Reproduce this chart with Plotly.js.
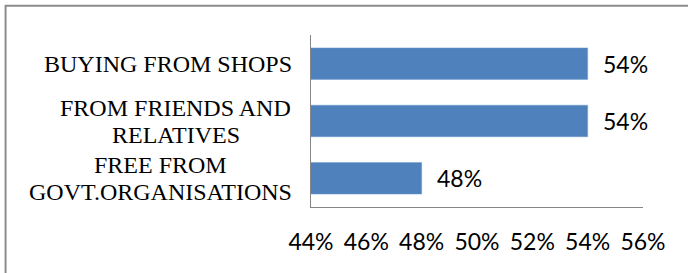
<!DOCTYPE html>
<html>
<head>
<meta charset="utf-8">
<script src="https://cdn.plot.ly/plotly-3.0.1.min.js"></script>
<style>
  html, body { margin: 0; padding: 0; background: #fff; }
  #chart { width: 688px; height: 273px; }
</style>
</head>
<body>
<div id="chart"></div>
<script>
const categories = ["BUYING FROM SHOPS", "FROM FRIENDS AND<br>RELATIVES", "FREE FROM<br>GOVT.ORGANISATIONS"];
const values = [0.54, 0.54, 0.48];
const tickValues = [0.44, 0.46, 0.48, 0.50, 0.52, 0.54, 0.56];

const trace = {
  type: "bar",
  orientation: "h",
  y: categories,
  x: values,
  marker: { color: "#4F81BD", line: { color: "#6E9AD0", width: 0.5 } },
  hoverinfo: "skip"
};

const CAT_FONT = "Liberation Serif, Times New Roman, serif";
const CAT_SIZE = 24;
const LINE_GAP = 27;
const ctx = document.createElement("canvas").getContext("2d");
ctx.font = CAT_SIZE + "px 'Liberation Serif'";

const catAnnotations = [];
categories.forEach((c) => {
  const lines = c.split("<br>");
  const mid = (lines.length - 1) / 2;
  const maxW = Math.max(...lines.map((ln) => ctx.measureText(ln).width));
  lines.forEach((ln, j) => {
    catAnnotations.push({
      xref: "paper", yref: "y", x: -0.058, y: c,
      xanchor: "center", yanchor: "middle", align: "center",
      xshift: -maxW / 2,
      yshift: (mid - j) * LINE_GAP,
      text: ln, showarrow: false,
      font: { family: CAT_FONT, size: CAT_SIZE, color: "#000" }
    });
  });
});

const valAnnotations = values.map((v, i) => ({
  xref: "x", yref: "y", x: v, y: categories[i],
  xanchor: "left", yanchor: "middle", xshift: 13,
  text: Math.round(v * 100) + "%", showarrow: false,
  font: { family: "Lato, Carlito, Calibri, sans-serif", size: 23, color: "#000" }
}));

const layout = {
  width: 688, height: 273,
  margin: { l: 311, r: 45, t: 35, b: 66 },
  paper_bgcolor: "#fff", plot_bgcolor: "#fff",
  showlegend: false,
  bargap: 0.45,
  xaxis: {
    range: [0.44, 0.56], tickvals: tickValues, tickformat: ".0%",
    showgrid: false, zeroline: false,
    showline: true, linecolor: "#868686", linewidth: 1,
    ticks: "outside", ticklen: 14, tickcolor: "rgba(0,0,0,0)",
    tickfont: { family: "Lato, Carlito, Calibri, sans-serif", size: 23, color: "#000" },
    fixedrange: true
  },
  yaxis: {
    type: "category", autorange: "reversed",
    showticklabels: false, showgrid: false, zeroline: false,
    showline: true, linecolor: "#868686", linewidth: 1, ticks: "",
    fixedrange: true
  },
  annotations: catAnnotations.concat(valAnnotations),
  shapes: [{
    type: "rect", xref: "paper", yref: "paper",
    x0: -0.92, x1: 1.2, y0: -0.5, y1: 1.17,
    line: { color: "#8C8C8C", width: 2 }, fillcolor: "rgba(0,0,0,0)", layer: "below"
  }]
};

Plotly.newPlot("chart", [trace], layout, { displayModeBar: false, staticPlot: true });
</script>
</body>
</html>
